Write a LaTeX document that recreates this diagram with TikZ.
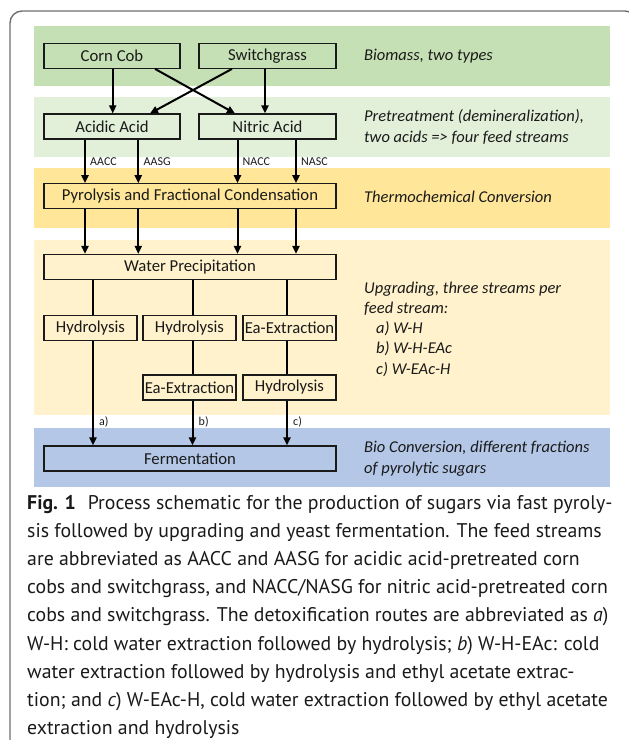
\documentclass[tikz,border=0pt]{standalone}
\usepackage{fontspec}
\setmainfont{Carlito}
\newfontfamily\capfont{PT Sans}
\usetikzlibrary{arrows.meta}
\definecolor{bandA}{HTML}{C5E0B4}
\definecolor{bandB}{HTML}{E2F0D9}
\definecolor{bandC}{HTML}{FFE699}
\definecolor{bandD}{HTML}{FFF2CC}
\definecolor{bandE}{HTML}{B4C7E7}
\definecolor{ink}{HTML}{1A1A1A}
\definecolor{frame}{HTML}{6E6E6E}
\begin{document}
\begin{tikzpicture}[x=1pt,y=-1pt,
  box/.style={draw=ink, line width=1.2pt, inner sep=0pt, minimum height=25pt, font=\fontsize{16.7}{19}\selectfont, text=ink},
  arr/.style={draw=black, line width=2pt, -{Triangle[length=8pt,width=7pt]}},
  ln/.style={draw=black, line width=2pt},
  side/.style={anchor=west, inner sep=0pt, font=\fontsize{16.5}{20.5}\selectfont\itshape, align=left, text=ink},
  tag/.style={anchor=west, inner sep=0pt, font=\fontsize{12}{14}\selectfont, text=ink},
  capline/.style={anchor=base west, inner sep=0pt, font=\capfont\fontsize{19.8}{28}\selectfont, text=ink}
]
\useasboundingbox (0,0) rectangle (629,740);
% frame
\draw[frame, line width=1.4pt, rounded corners=12pt] (10,750) -- (10,11) -- (637,11) -- (637,750);
% bands
\fill[bandA] (34,26) rectangle (610,85.5);
\fill[bandB] (34,96.7) rectangle (610,156.5);
\fill[bandC] (34,167.5) rectangle (610,228);
\fill[bandD] (34,240) rectangle (610,415);
\fill[bandE] (34,428) rectangle (610,487);
% boxes
\node[box, minimum width=136pt] (cc) at (112,55.8) {Corn Cob};
\node[box, minimum width=137pt] (sg) at (267.5,55.8) {Switchgrass};
\node[box, minimum width=136pt] (aa) at (112,126.5) {Acidic Acid};
\node[box, minimum width=137pt] (na) at (267.5,126.5) {Nitric Acid};
\node[box, minimum width=292pt] (pyr) at (190,196.3) {Pyrolysis and Fractional Condensation};
\node[box, minimum width=292pt] (wp) at (190,267) {Water Precipitation};
\node[box, minimum width=93pt] (h1) at (90.5,328) {Hydrolysis};
\node[box, minimum width=93pt] (h2) at (189.5,328) {Hydrolysis};
\node[box, minimum width=93pt] (ea1) at (289.5,328) {Ea-Extraction};
\node[box, minimum width=93pt] (ea2) at (189.5,387.5) {Ea-Extraction};
\node[box, minimum width=93pt] (h3) at (289.5,387.5) {Hydrolysis};
\node[box, minimum width=292pt] (fer) at (190,458.5) {Fermentation};
% x positions
\coordinate (xc1) at (112.7,0);
\coordinate (xc2) at (155,0);
\coordinate (xs1) at (232,0);
\coordinate (xs2) at (265,0);
\coordinate (xa1) at (150,0);
\coordinate (xn1) at (235,0);
\coordinate (s1) at (85,0);
\coordinate (s2) at (138.3,0);
\coordinate (s3) at (237.5,0);
\coordinate (s4) at (296,0);
\coordinate (ra) at (93,0);
\coordinate (rb) at (192.5,0);
\coordinate (rc) at (287,0);
% biomass -> acids
\draw[arr] (xc1 |- cc.south) -- (xc1 |- aa.north);
\draw[arr] (xs2 |- sg.south) -- (xs2 |- na.north);
\draw[arr] (xc2 |- cc.south) -- (xn1 |- na.north);
\draw[arr] (xs1 |- sg.south) -- (xa1 |- aa.north);
% feed streams
\draw[arr] (s1 |- aa.south) -- (s1 |- pyr.north);
\draw[arr] (s2 |- aa.south) -- (s2 |- pyr.north);
\draw[arr] (s3 |- na.south) -- (s3 |- pyr.north);
\draw[arr] (s4 |- na.south) -- (s4 |- pyr.north);
\node[tag] (t1) at (90,161.5) {AACC};
\node[tag] (t2) at (143.5,161.5) {AASG};
\node[tag] (t3) at (242.5,161.5) {NACC};
\node[tag] (t4) at (301,161.5) {NASC};
\draw[arr] (s1 |- pyr.south) -- (s1 |- wp.north);
\draw[arr] (s2 |- pyr.south) -- (s2 |- wp.north);
\draw[arr] (s3 |- pyr.south) -- (s3 |- wp.north);
\draw[arr] (s4 |- pyr.south) -- (s4 |- wp.north);
% upgrading routes
\draw[ln] (ra |- wp.south) -- (ra |- h1.north);
\draw[ln] (rb |- wp.south) -- (rb |- h2.north);
\draw[ln] (rc |- wp.south) -- (rc |- ea1.north);
\draw[ln] (rb |- h2.south) -- (rb |- ea2.north);
\draw[ln] (rc |- ea1.south) -- (rc |- h3.north);
\draw[arr] (ra |- h1.south) -- (ra |- fer.north);
\draw[arr] (rb |- ea2.south) -- (rb |- fer.north);
\draw[arr] (rc |- h3.south) -- (rc |- fer.north);
\node[tag] (la) at (99,422) {a)};
\node[tag] (lb) at (198.5,422) {b)};
\node[tag] (lc) at (293,422) {c)};
% side texts
\node[side] (d1) at (364,56) {Biomass, two types};
\node[side] (d2) at (364,126.8) {Pretreatment (demineralization),\\two acids => four feed streams};
\node[side] (d3) at (364,197) {Thermochemical Conversion};
\node[side, font=\fontsize{16.5}{20.25}\selectfont\itshape] (d4) at (364,329) {Upgrading, three streams per\\feed stream:\\\hspace*{12pt}a) W-H\\\hspace*{12pt}b) W-H-EAc\\\hspace*{12pt}c) W-EAc-H};
\node[side] (d5) at (364,458.8) {Bio Conversion, different fractions\\of pyrolytic sugars};
% caption
\node[capline] (c1) at (27,509) {\textbf{Fig. 1}\hspace{0.6em}Process schematic for the production of sugars via fast pyroly-};
\node[capline] (c2) at (27,537.2) {sis followed by upgrading and yeast fermentation. The feed streams};
\node[capline] (c3) at (27,565.4) {are abbreviated as AACC and AASG for acidic acid-pretreated corn};
\node[capline] (c4) at (27,593.6) {cobs and switchgrass, and NACC/NASG for nitric acid-pretreated corn};
\node[capline] (c5) at (27,621.8) {cobs and switchgrass. The detoxification routes are abbreviated as \textit{a})};
\node[capline] (c6) at (27,650) {W-H: cold water extraction followed by hydrolysis; \textit{b}) W-H-EAc: cold};
\node[capline] (c7) at (27,678.2) {water extraction followed by hydrolysis and ethyl acetate extrac-};
\node[capline] (c8) at (27,706.4) {tion; and \textit{c}) W-EAc-H, cold water extraction followed by ethyl acetate};
\node[capline] (c9) at (27,734.6) {extraction and hydrolysis};
\end{tikzpicture}
\end{document}
